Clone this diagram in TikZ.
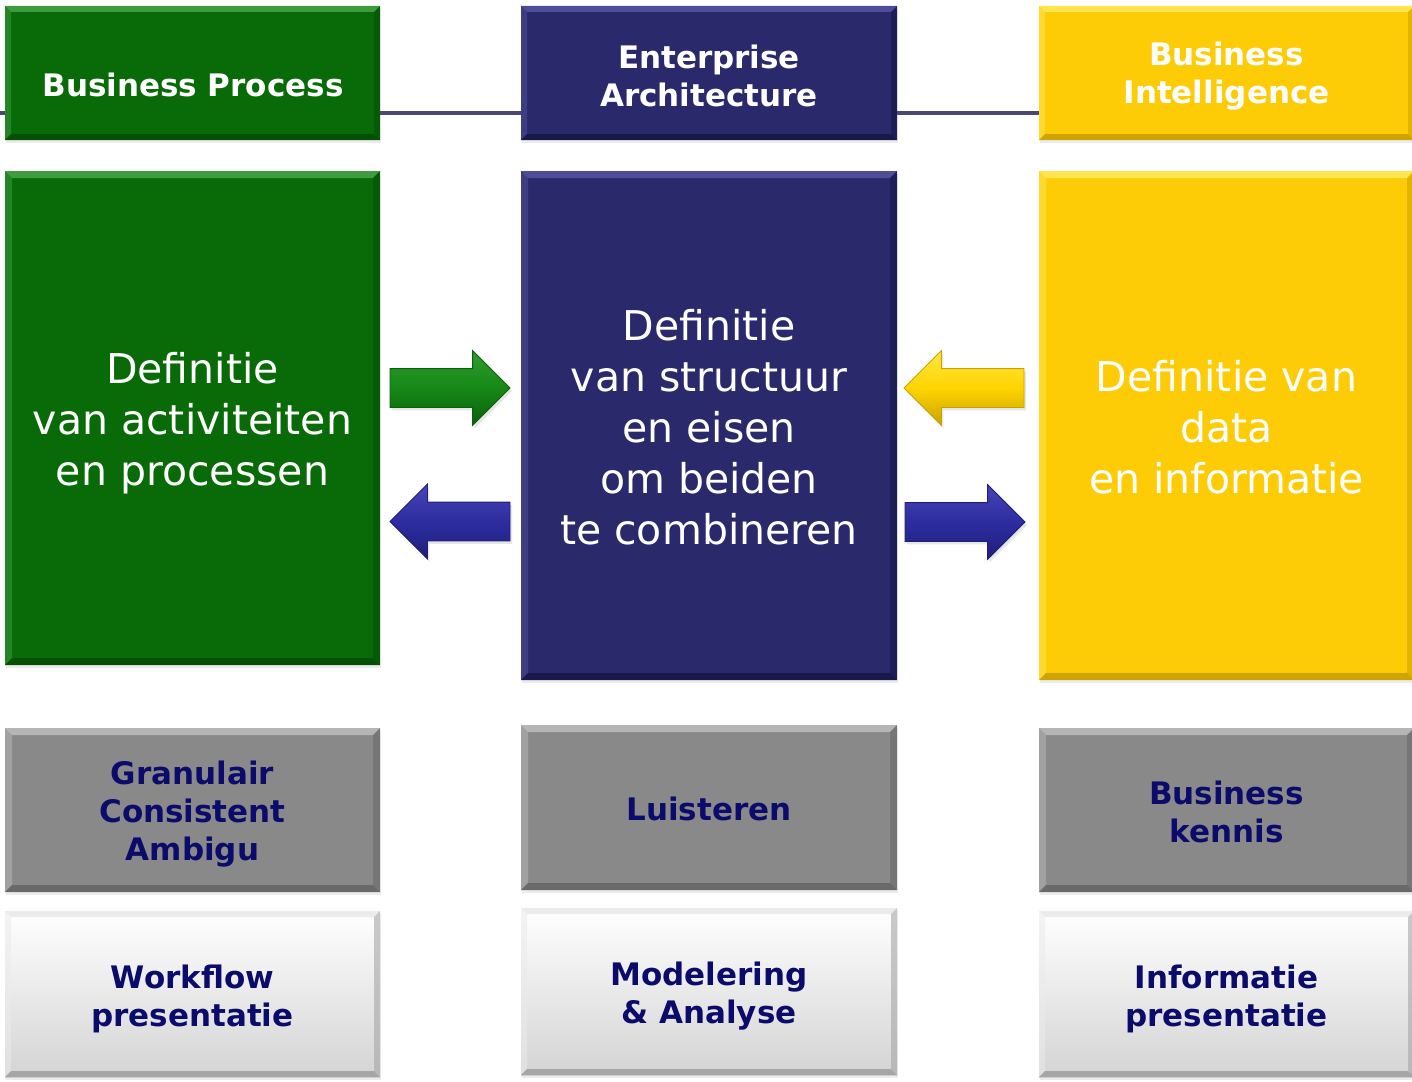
\documentclass[tikz,border=0pt]{standalone}
\usepackage{fontspec}
\setmainfont{DejaVu Sans}
\usetikzlibrary{shapes.arrows,shadows,backgrounds}
\definecolor{bpgreen}{HTML}{086B08}
\definecolor{bpgreenL}{HTML}{3E9C3E}
\definecolor{bpgreenD}{HTML}{045004}
\definecolor{eablue}{HTML}{29296C}
\definecolor{eablueL}{HTML}{4E4E98}
\definecolor{eablueD}{HTML}{18184A}
\definecolor{biyellow}{HTML}{FDCC07}
\definecolor{biyellowL}{HTML}{FFE650}
\definecolor{biyellowD}{HTML}{D0A400}
\definecolor{boxgray}{HTML}{898989}
\definecolor{boxgrayL}{HTML}{B5B5B5}
\definecolor{boxgrayD}{HTML}{6A6A6A}
\definecolor{navytext}{HTML}{0B0B6B}
\definecolor{linecol}{HTML}{4A4A70}
\definecolor{arrgreen}{HTML}{178817}
\definecolor{arrgreenL}{HTML}{2E9E2E}
\definecolor{arrgreenD}{HTML}{0A600A}
\definecolor{arrblue}{HTML}{2D2DA0}
\definecolor{arrblueL}{HTML}{4545B8}
\definecolor{arrblueD}{HTML}{1E1E7A}
\definecolor{arryel}{HTML}{FFD400}
\definecolor{arryelL}{HTML}{FFE640}
\definecolor{arryelD}{HTML}{C9A200}
\newcommand\headfont{\bfseries\fontsize{31}{38}\selectfont}
\newcommand\mainfont{\fontsize{41}{51}\selectfont}
\begin{document}
\begin{tikzpicture}[x=1pt,y=-1pt,
  bevel/.style n args={3}{path picture={
    \fill[#1] (path picture bounding box.north west) -- (path picture bounding box.north east)
      -- ([xshift=-#3,yshift=-#3]path picture bounding box.north east)
      -- ([xshift=#3,yshift=-#3]path picture bounding box.north west) -- cycle;
    \fill[#1,opacity=0.55] (path picture bounding box.north west)
      -- ([xshift=#3,yshift=-#3]path picture bounding box.north west)
      -- ([xshift=#3,yshift=#3]path picture bounding box.south west)
      -- (path picture bounding box.south west) -- cycle;
    \fill[#2,opacity=0.6] (path picture bounding box.north east)
      -- ([xshift=-#3,yshift=-#3]path picture bounding box.north east)
      -- ([xshift=-#3,yshift=#3]path picture bounding box.south east)
      -- (path picture bounding box.south east) -- cycle;
    \fill[#2] (path picture bounding box.south west) -- (path picture bounding box.south east)
      -- ([xshift=-#3,yshift=#3]path picture bounding box.south east)
      -- ([xshift=#3,yshift=#3]path picture bounding box.south west) -- cycle;
  }},
  box/.style={rectangle, inner sep=0pt, outer sep=0pt,
    drop shadow={shadow xshift=1pt, shadow yshift=-3pt, opacity=0.15}},
  headbox/.style={box, minimum height=134pt},
  graybox/.style={box, fill=boxgray, bevel={boxgrayL}{boxgrayD}{7pt}},
  whitebox/.style={box, top color=white, bottom color=black!17,
    bevel={black!8}{black!35}{6pt}},
  headtext/.style={inner sep=0pt, text=white, font=\headfont, align=center},
  maintext/.style={inner sep=0pt, text=white, font=\mainfont, align=center},
  navytxt/.style={inner sep=0pt, text=navytext, font=\headfont, align=center},
  arr/.style={single arrow, minimum height=120pt, minimum width=74pt,
    single arrow head extend=18pt, inner xsep=0pt, inner ysep=19pt, outer sep=0pt,
    line width=0.8pt, drop shadow={shadow xshift=2pt, shadow yshift=-3pt, opacity=0.2}},
  hline/.style={line width=3.5pt, draw=linecol}
]
\useasboundingbox (0,0) rectangle (1412,1081);

% top row
\node[headbox, fill=bpgreen, bevel={bpgreenL}{bpgreenD}{6pt}, minimum width=375pt] (bp) at (192.5,73) {};
\node[headbox, fill=eablue, bevel={eablueL}{eablueD}{6pt}, minimum width=376pt] (ea) at (709,73) {};
\node[headbox, fill=biyellow, bevel={biyellowL}{biyellowD}{6pt}, minimum width=375pt] (bi) at (1226.5,73) {};
\node[headtext] (bptext) at (193,85) {Business Process};
\node[headtext] (eatext) at ([yshift=-3pt]ea.center) {Enterprise\\Architecture};
\node[headtext] (bitext) at ([yshift=-3pt]bi.center) {Business\\Intelligence};

% main row
\node[box, fill=bpgreen, bevel={bpgreenL}{bpgreenD}{7pt}, minimum width=375pt, minimum height=494pt] (bpm) at (192.5,418) {};
\node[box, fill=eablue, bevel={eablueL}{eablueD}{7pt}, minimum width=376pt, minimum height=509pt] (eam) at (709,425.5) {};
\node[box, fill=biyellow, bevel={biyellowL}{biyellowD}{7pt}, minimum width=375pt, minimum height=509pt] (bim) at (1226.5,425.5) {};
\node[maintext] (bpmtext) at ([yshift=-5pt]bpm.center) {Definitie\\van activiteiten\\en processen};
\node[maintext] (eamtext) at ([yshift=-2pt]eam.center) {Definitie\\van structuur\\en eisen\\om beiden\\te combineren};
\node[maintext] (bimtext) at ([yshift=-1.5pt]bim.center) {Definitie van\\data\\en informatie};

% gray row
\node[graybox, minimum width=375pt, minimum height=164pt] (g1) at (192.5,810) {};
\node[graybox, minimum width=376pt, minimum height=165pt] (g2) at (709,807.5) {};
\node[graybox, minimum width=375pt, minimum height=164pt] (g3) at (1226.5,810) {};
\node[navytxt] (g1text) at ([yshift=-4pt]g1.center) {Granulair\\Consistent\\Ambigu};
\node[navytxt] (g2text) at ([yshift=-1pt]g2.center) {Luisteren};
\node[navytxt] (g3text) at ([yshift=-2pt]g3.center) {Business\\kennis};

% white row
\node[whitebox, minimum width=375pt, minimum height=166pt] (w1) at (192.5,994) {};
\node[whitebox, minimum width=376pt, minimum height=167pt] (w2) at (709,991.5) {};
\node[whitebox, minimum width=375pt, minimum height=166pt] (w3) at (1226.5,994) {};
\node[navytxt] (w1text) at ([yshift=-4.5pt]w1.center) {Workflow\\presentatie};
\node[navytxt] (w2text) at ([yshift=-4.5pt]w2.center) {Modelering\\\& Analyse};
\node[navytxt] (w3text) at ([yshift=-4.5pt]w3.center) {Informatie\\presentatie};

% arrows
\node[arr, anchor=tip, top color=arrgreenL, bottom color=arrgreenD, middle color=arrgreen, draw=arrgreenD] (a1) at (510,388) {};
\node[arr, anchor=tip, shape border rotate=180, top color=arrblueL, bottom color=arrblueD, middle color=arrblue, draw=arrblueD] (a2) at (390,521.5) {};
\node[arr, anchor=tip, shape border rotate=180, top color=arryelL, bottom color=arryelD, middle color=arryel, draw=arryelD] (a3) at (904,388) {};
\node[arr, anchor=tip, top color=arrblueL, bottom color=arrblueD, middle color=arrblue, draw=arrblueD] (a4) at (1025,522) {};

% connecting line behind top boxes
\begin{pgfonlayer}{background}
\coordinate (lineL) at (0,113);
\draw[hline] (lineL) -- (lineL -| bi.west);
\end{pgfonlayer}
\end{tikzpicture}
\end{document}
